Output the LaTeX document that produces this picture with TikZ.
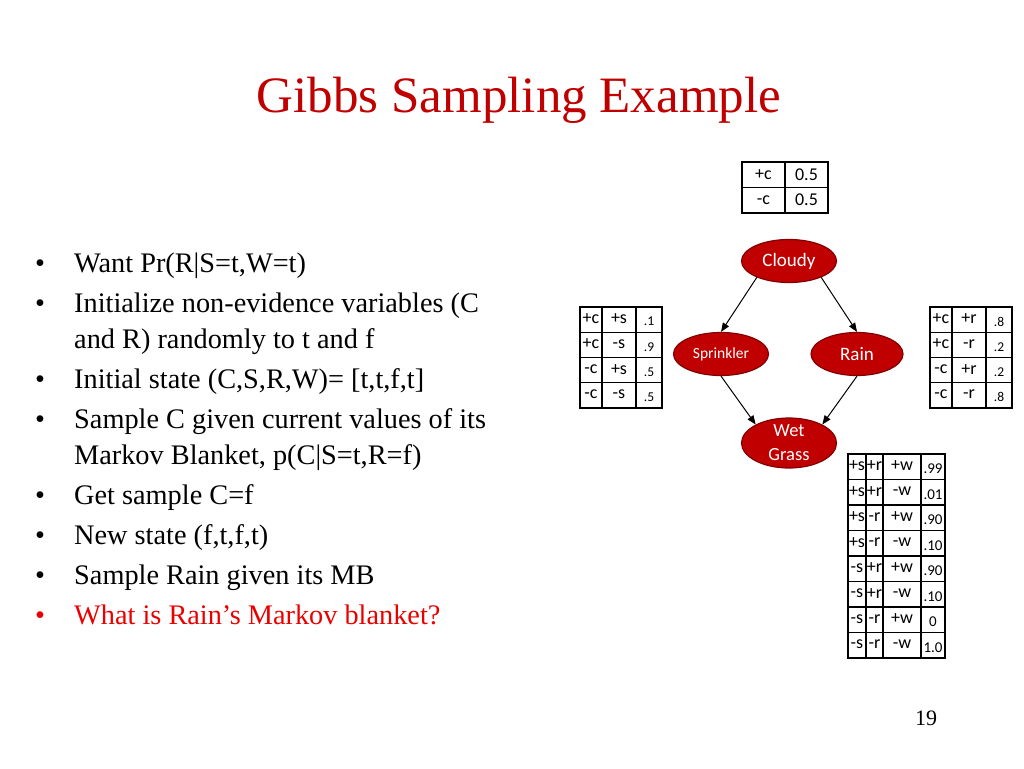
\documentclass[tikz,border=0pt]{standalone}
\usepackage{fontspec}
\setmainfont{Liberation Serif}
\newfontfamily\calfont{Carlito}
\usetikzlibrary{shapes.geometric,arrows.meta}
\definecolor{titlered}{RGB}{192,0,0}
\definecolor{brightred}{RGB}{235,0,0}
\definecolor{nodered}{RGB}{192,0,0}
\definecolor{nodeborder}{RGB}{130,0,0}
\begin{document}
\begin{tikzpicture}[x=1pt,y=-1pt,
  tbl/.style={line width=1.2pt, draw=black},
  cellt/.style={inner sep=0, font=\calfont\fontsize{18}{18}\selectfont},
  celln/.style={inner sep=0, font=\calfont\fontsize{13.5}{13.5}\selectfont},
  cellw/.style={inner sep=0, font=\calfont\fontsize{15}{15}\selectfont},
  bn/.style={ellipse, fill=nodered, draw=nodeborder, line width=1.2pt, minimum width=95pt, minimum height=43pt, inner sep=0, text=white, font=\calfont\fontsize{19}{19}\selectfont},
  arr/.style={-{Triangle[length=9pt,width=7pt]}, line width=1pt},
  bul/.style={anchor=base, inner sep=0, font=\fontsize{28.3}{34}\selectfont},
  txt/.style={anchor=base west, inner sep=0, font=\fontsize{28.3}{34}\selectfont}]
\fill[white] (0,0) rectangle (1024,768);
\useasboundingbox (0,0) rectangle (1024,768);

% title
\node[anchor=base, inner sep=0, text=titlered, font=\fontsize{51}{51}\selectfont] (title) at (519,112) {Gibbs Sampling Example};

% bullets
\node[bul] (b1) at (40,272) {•};
\node[txt] (l1) at (74,272) {Want Pr(R|S=t,W=t)};
\node[bul] (b2) at (40,312) {•};
\node[txt] (l2) at (74,312) {Initialize non-evidence variables (C};
\node[txt] (l2b) at (74,348) {and R) randomly to t and f};
\node[bul] (b3) at (40,388) {•};
\node[txt] (l3) at (74,388) {Initial state (C,S,R,W)= [t,t,f,t]};
\node[bul] (b4) at (40,428) {•};
\node[txt] (l4) at (74,428) {Sample C given current values of its};
\node[txt] (l4b) at (74,464) {Markov Blanket, p(C|S=t,R=f)};
\node[bul] (b5) at (40,504) {•};
\node[txt] (l5) at (74,504) {Get sample C=f};
\node[bul] (b6) at (40,544) {•};
\node[txt] (l6) at (74,544) {New state (f,t,f,t)};
\node[bul] (b7) at (40,584) {•};
\node[txt] (l7) at (74,584) {Sample Rain given its MB};
\node[bul, text=brightred] (b8) at (40,624) {•};
\node[txt, text=brightred] (l8) at (74,624) {What is Rain’s Markov blanket?};

% page number
\node[anchor=base, inner sep=0, font=\fontsize{22}{22}\selectfont] (pg) at (926,725) {19};

% Bayes net
\node[bn] (cloudy) at (789,261) {Cloudy};
\node[bn, font=\calfont\fontsize{15.5}{15.5}\selectfont] (spr) at (721,354) {Sprinkler};
\node[bn, minimum width=92pt] (rain) at (857,354) {Rain};
\node[bn, minimum height=50pt, label={[name=wetlbl, align=center, text=white, inner sep=0, font=\calfont\fontsize{18.5}{24}\selectfont]center:Wet\\Grass}] (wet) at (789,443) {};
\draw[arr] (cloudy.207) -- (spr.north);
\draw[arr] (cloudy.333) -- (rain.north);
\draw[arr] (spr.south) -- (wet.151);
\draw[arr] (rain.south) -- (wet.29);

% table C
\draw[tbl] (742,162) rectangle (828,213);
\draw[tbl] (785,162) -- (785,213);
\draw[tbl] (742,187.5) -- (828,187.5);
\node[cellt] (c11) at (763.5,175) {+c};
\node[cellt] (c12) at (806.5,175) {0.5};
\node[cellt] (c21) at (763.5,200) {-c};
\node[cellt] (c22) at (806.5,200) {0.5};

% table S
\draw[tbl] (580,307) rectangle (662,408);
\foreach \xx in {602,636} \draw[tbl] (\xx,307) -- (\xx,408);
\foreach \yy in {332.25,357.5,382.75} \draw[tbl] (580,\yy) -- (662,\yy);
\foreach \a/\b/\c [count=\i] in {+c/+s/.1, +c/-s/.9, -c/+s/.5, -c/-s/.5} {
  \node[cellt] (s\i a) at (591,{306+(\i-0.5)*25.25}) {\a};
  \node[cellt] (s\i b) at (619,{306+(\i-0.5)*25.25}) {\b};
  \node[celln] (s\i c) at (649,{309+(\i-0.5)*25.25}) {\c};
}

% table R
\draw[tbl] (930,307) rectangle (1012,408);
\foreach \xx in {952,986} \draw[tbl] (\xx,307) -- (\xx,408);
\foreach \yy in {332.25,357.5,382.75} \draw[tbl] (930,\yy) -- (1012,\yy);
\foreach \a/\b/\c [count=\i] in {+c/+r/.8, +c/-r/.2, -c/+r/.2, -c/-r/.8} {
  \node[cellt] (r\i a) at (941,{306+(\i-0.5)*25.25}) {\a};
  \node[cellt] (r\i b) at (969,{306+(\i-0.5)*25.25}) {\b};
  \node[celln] (r\i c) at (999,{309+(\i-0.5)*25.25}) {\c};
}

% table W
\draw[tbl] (848,454) rectangle (945,658);
\foreach \xx in {866,883,921} \draw[tbl] (\xx,454) -- (\xx,658);
\foreach \k in {1,...,7} \draw[tbl] (848,{454+\k*25.5}) -- (945,{454+\k*25.5});
\foreach \a/\b/\c/\d [count=\i] in {+s/+r/+w/.99, +s/+r/-w/.01, +s/-r/+w/.90, +s/-r/-w/.10, -s/+r/+w/.90, -s/+r/-w/.10, -s/-r/+w/0, -s/-r/-w/1.0} {
  \node[cellt] (w\i a) at (857,{453+(\i-0.5)*25.5}) {\a};
  \node[cellt] (w\i b) at (874.5,{453+(\i-0.5)*25.5}) {\b};
  \node[cellt] (w\i c) at (902,{453+(\i-0.5)*25.5}) {\c};
  \node[cellw] (w\i d) at (933,{456+(\i-0.5)*25.5}) {\d};
}
\end{tikzpicture}
\end{document}
